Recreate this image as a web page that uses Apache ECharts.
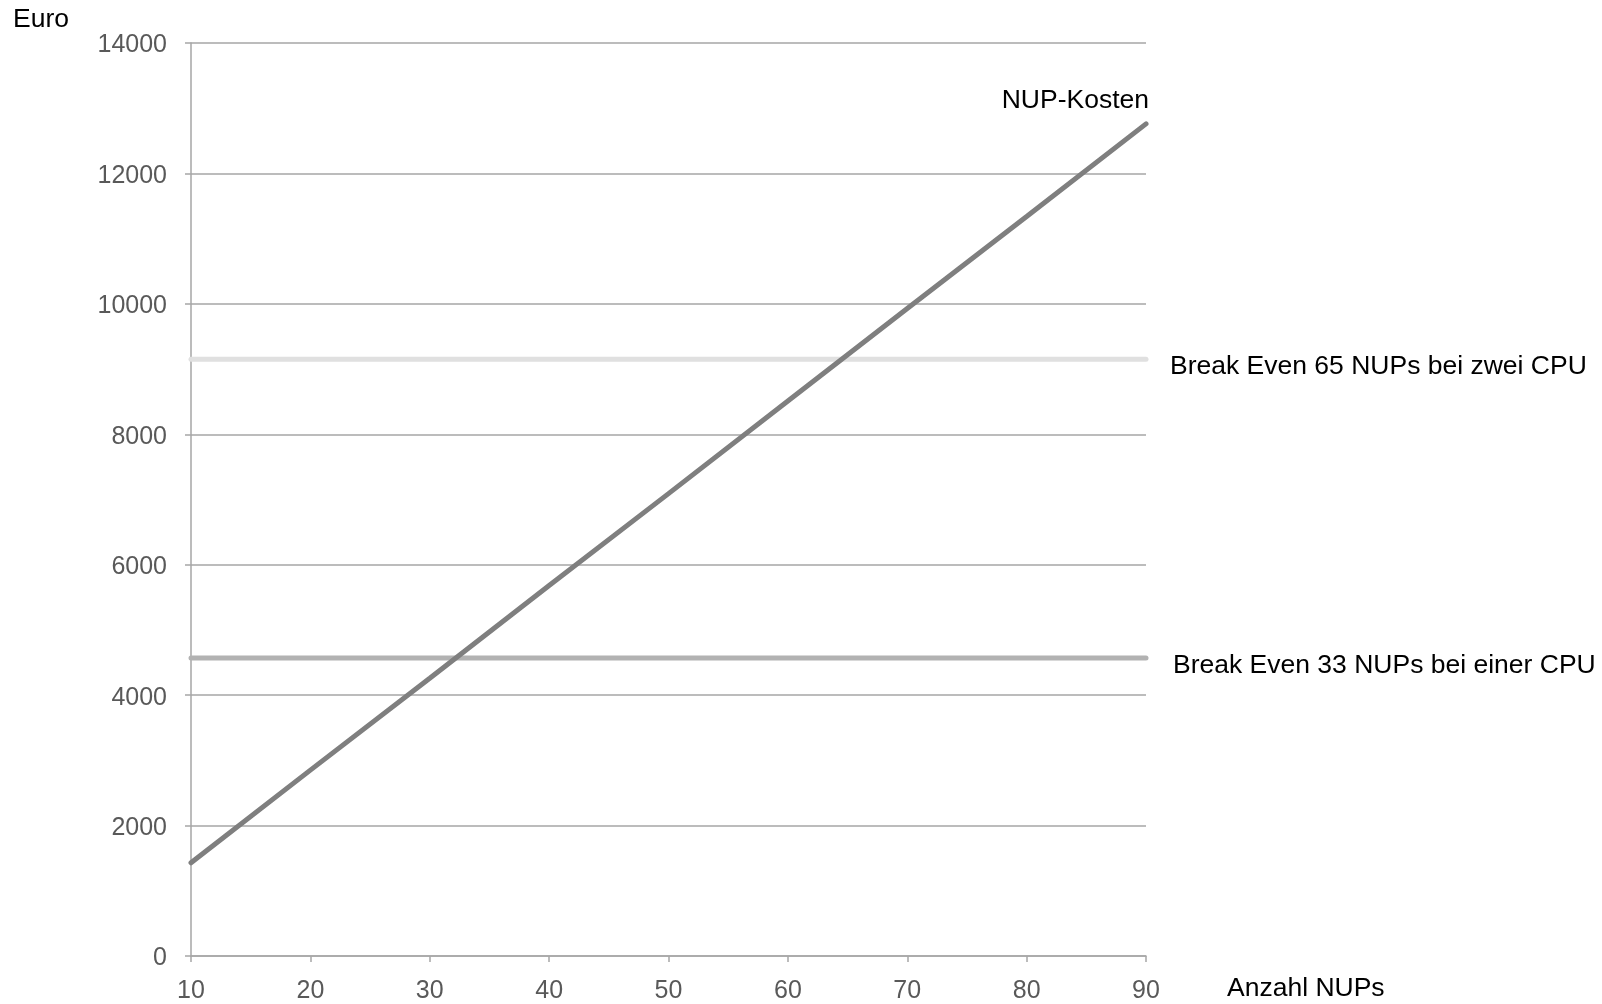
<!DOCTYPE html>
<html>
<head>
<meta charset="utf-8">
<script src="https://cdn.jsdelivr.net/npm/echarts@6/dist/echarts.min.js"></script>
<style>
html,body{margin:0;padding:0;background:#fff;}
#chart{width:1602px;height:1004px;}
</style>
</head>
<body>
<div id="chart"></div>
<script>
// Data
const xValues = [10, 20, 30, 40, 50, 60, 70, 80, 90];
const nupKosten = [1430, 2850, 4260, 5680, 7090, 8510, 9930, 11340, 12760];
const breakEvenRange = [10, 90];
const breakEvenZwei = 9150;
const breakEvenEiner = 4570;
const seriesNames = ['NUP-Kosten', 'Break Even 65 NUPs bei zwei CPU', 'Break Even 33 NUPs bei einer CPU'];
const yTicks = [0, 2000, 4000, 6000, 8000, 10000, 12000, 14000];

const FONT = '"Liberation Sans", Arial, sans-serif';
const LBL = 26.5;
const chart = echarts.init(document.getElementById('chart'), null, {renderer: 'canvas'});

const option = {
  animation: false,
  backgroundColor: '#ffffff',
  grid: {left: 191, top: 43, width: 955, height: 916, containLabel: false},
  xAxis: {
    type: 'value',
    min: 10, max: 90, interval: 10,
    name: 'Anzahl NUPs',
    nameLocation: 'end',
    nameGap: 81,
    nameTextStyle: {fontFamily: FONT, fontSize: LBL, color: '#000', align: 'left', verticalAlign: 'top', padding: [19, 0, 0, 0]},
    axisLine: {show: true, lineStyle: {color: '#a6a6a6', width: 1.5}},
    axisTick: {show: true, length: 6, lineStyle: {color: '#a6a6a6', width: 1.5}},
    axisLabel: {fontFamily: FONT, fontSize: 25, color: '#595959', margin: 23, formatter: v => String(v)},
    splitLine: {show: false}
  },
  yAxis: {
    type: 'value',
    min: yTicks[0], max: yTicks[yTicks.length - 1], interval: 2000,
    name: 'Euro',
    nameLocation: 'end',
    nameGap: 23.5,
    nameTextStyle: {fontFamily: FONT, fontSize: LBL, color: '#000', align: 'right', verticalAlign: 'middle', padding: [0, 122, 0, 0]},
    axisLine: {show: true, lineStyle: {color: '#a6a6a6', width: 1.5}},
    axisTick: {show: true, length: 6, lineStyle: {color: '#a6a6a6', width: 1.5}},
    axisLabel: {
      margin: 24,
      formatter: v => '{t|' + v + '}',
      rich: {t: {fontFamily: FONT, fontSize: 25, color: '#595959', padding: [5, 0, 0, 0]}}
    },
    splitLine: {show: true, lineStyle: {color: '#a6a6a6', width: 1.5}}
  },
  series: [
    {
      name: seriesNames[1], type: 'line', symbol: 'none', silent: true,
      data: breakEvenRange.map(x => [x, breakEvenZwei]),
      lineStyle: {color: '#e0e0e0', width: 5, cap: 'round'},
      endLabel: {show: true, formatter: '{a}', distance: 24, fontFamily: FONT, fontSize: LBL, color: '#000',
        align: 'left', verticalAlign: 'middle', offset: [0, 7]}
    },
    {
      name: seriesNames[2], type: 'line', symbol: 'none', silent: true,
      data: breakEvenRange.map(x => [x, breakEvenEiner]),
      lineStyle: {color: '#b2b2b2', width: 5, cap: 'round'},
      endLabel: {show: true, formatter: '{a}', distance: 24, fontFamily: FONT, fontSize: LBL, color: '#000',
        align: 'left', verticalAlign: 'middle', offset: [3, 8]}
    },
    {
      name: seriesNames[0], type: 'line', symbol: 'none', silent: true,
      data: xValues.map((x, i) => [x, nupKosten[i]]),
      lineStyle: {color: '#7f7f7f', width: 5, cap: 'round'},
      endLabel: {show: true, formatter: '{a}', distance: 0, fontFamily: FONT, fontSize: LBL, color: '#000',
        align: 'right', verticalAlign: 'middle', offset: [3, -23]}
    }
  ]
};
chart.setOption(option);
</script>
</body>
</html>
